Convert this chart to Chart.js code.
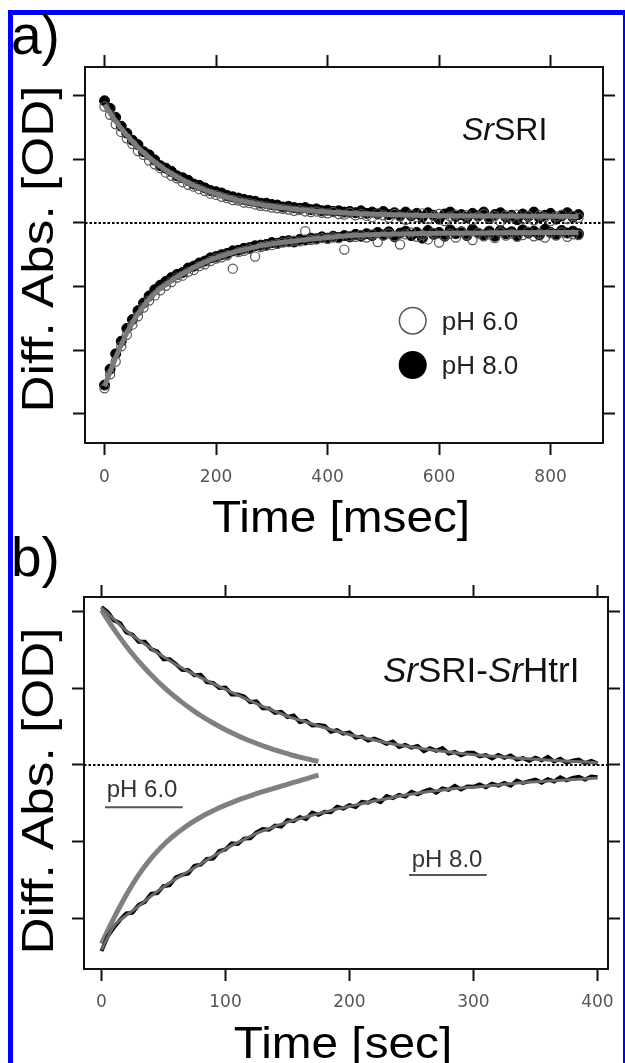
<!DOCTYPE html>
<html><head><meta charset="utf-8">
<script src="https://cdn.jsdelivr.net/npm/chart.js@4.4.1/dist/chart.umd.min.js"></script>
<style>
html,body{margin:0;padding:0;background:#fff;}
body{width:625px;height:1063px;position:relative;overflow:hidden;}
#frame{position:absolute;left:8px;top:10px;width:620px;height:1100px;border:5px solid #0000ff;box-sizing:border-box;}
canvas{position:absolute;left:0;}
#ca{top:0;}
#cb{top:530px;}
</style></head><body>
<div id="frame"></div>
<canvas id="ca" width="625" height="545"></canvas>
<canvas id="cb" width="625" height="533"></canvas>
<script>
// ---------------- Panel a data (Time in msec, Diff. Abs. in tick units) ----------------
const A_X_TICKS = [0,200,400,600,800];
const A_Y_TICKS = [-3,-2,-1,0,1,2];
const A_TIME = [0,10,20,30,40,50,60,70,80,90,100,110,120,130,140,150,160,170,180,190,200,210,220,230,240,250,260,270,280,290,300,310,320,330,340,350,360,370,380,390,400,410,420,430,440,450,460,470,480,490,500,510,520,530,540,550,560,570,580,590,600,610,620,630,640,650,660,670,680,690,700,710,720,730,740,750,760,770,780,790,800,810,820,830,840,850];
const A_PH8_UP = [1.92,1.80,1.66,1.52,1.41,1.30,1.23,1.12,1.07,0.99,
0.90,0.86,0.81,0.74,0.71,0.67,0.61,0.59,0.55,0.51,
0.49,0.47,0.43,0.41,0.39,0.37,0.35,0.34,0.31,0.31,
0.29,0.28,0.25,0.26,0.24,0.23,0.24,0.21,0.22,0.19,
0.20,0.18,0.19,0.17,0.18,0.16,0.19,0.15,0.17,0.14,
0.18,0.13,0.16,0.12,0.17,0.11,0.15,0.09,0.16,0.12,
0.06,0.14,0.17,0.10,0.13,0.08,0.15,0.11,0.17,0.07,
0.13,0.16,0.09,0.12,0.05,0.14,0.10,0.17,0.08,0.12,
0.15,0.06,0.11,0.16,0.09,0.13];
const A_PH8_DN = [-2.55,-2.30,-2.06,-1.86,-1.66,-1.52,-1.38,-1.26,-1.15,-1.05,
-0.98,-0.92,-0.86,-0.81,-0.78,-0.71,-0.68,-0.63,-0.60,-0.55,
-0.53,-0.50,-0.48,-0.44,-0.43,-0.40,-0.39,-0.36,-0.35,-0.34,
-0.31,-0.32,-0.29,-0.28,-0.30,-0.26,-0.27,-0.24,-0.25,-0.22,
-0.24,-0.21,-0.23,-0.20,-0.22,-0.18,-0.21,-0.17,-0.20,-0.15,
-0.19,-0.14,-0.22,-0.16,-0.13,-0.20,-0.15,-0.24,-0.12,-0.18,
-0.15,-0.21,-0.11,-0.17,-0.14,-0.20,-0.10,-0.16,-0.19,-0.13,
-0.21,-0.12,-0.17,-0.14,-0.20,-0.11,-0.16,-0.13,-0.19,-0.10,
-0.15,-0.18,-0.12,-0.16,-0.13,-0.17];
const A_PH6_UP = [1.83,1.70,1.55,1.43,1.33,1.24,1.13,1.07,0.98,0.92,
0.86,0.79,0.74,0.70,0.64,0.60,0.57,0.53,0.50,0.46,
0.44,0.41,0.39,0.36,0.35,0.32,0.31,0.29,0.27,0.26,
0.24,0.23,0.22,0.21,0.19,0.20,0.18,0.17,0.18,0.16,
0.15,0.17,0.14,0.13,0.16,0.12,0.14,0.11,0.09,0.15,
0.12,0.08,0.14,0.10,0.05,0.13,0.09,0.15,0.06,0.11,
0.14,0.03,0.10,0.13,0.07,0.12,0.04,0.10,0.14,0.08,
0.11,0.02,0.12,0.09,0.13,0.06,0.11,0.04,0.12,0.09,
0.03,0.10,0.13,0.06,0.11,0.08];
const A_PH6_DN = [-2.60,-2.38,-2.18,-1.94,-1.76,-1.60,-1.47,-1.33,-1.22,-1.14,
-1.06,-0.99,-0.93,-0.86,-0.83,-0.77,-0.74,-0.68,-0.65,-0.60,
-0.56,-0.54,-0.51,-0.72,-0.46,-0.44,-0.41,-0.53,-0.38,-0.36,
-0.35,-0.33,-0.31,-0.30,-0.28,-0.29,-0.13,-0.27,-0.26,-0.24,
-0.25,-0.23,-0.24,-0.42,-0.21,-0.22,-0.19,-0.23,-0.18,-0.30,
-0.20,-0.17,-0.21,-0.34,-0.18,-0.15,-0.22,-0.19,-0.26,-0.16,
-0.31,-0.20,-0.17,-0.23,-0.14,-0.19,-0.27,-0.16,-0.21,-0.18,
-0.24,-0.15,-0.20,-0.17,-0.22,-0.19,-0.14,-0.21,-0.17,-0.23,
-0.16,-0.20,-0.15,-0.22,-0.18,-0.19];
const A_FIT_TIME = [0,10,20,30,40,50,60,70,80,90,100,110,120,130,140,150,160,170,180,190,200,210,220,230,240,250,260,270,280,290,300,320,340,360,380,400,450,500,550,600,700,850];
const A_FIT_UP = [1.860,1.725,1.600,1.484,1.378,1.280,1.189,1.105,1.028,0.957,0.891,0.830,0.774,0.722,0.674,0.630,0.589,0.552,0.517,0.485,0.455,0.428,0.403,0.379,0.358,0.338,0.320,0.303,0.287,0.273,0.260,0.236,0.216,0.199,0.184,0.172,0.148,0.132,0.122,0.114,0.107,0.102];
const A_FIT_DN = [-2.57,-2.34,-2.12,-1.92,-1.73,-1.57,-1.43,-1.31,-1.20,-1.11,-1.03,-0.97,-0.91,-0.85,-0.80,-0.75,-0.70,-0.66,-0.62,-0.58,-0.55,-0.52,-0.49,-0.465,-0.44,-0.42,-0.40,-0.38,-0.36,-0.345,-0.33,-0.305,-0.285,-0.265,-0.245,-0.23,-0.195,-0.18,-0.17,-0.163,-0.157,-0.152];
const A_X_RANGE = [-35, 894];
const A_Y_RANGE = [-3.461, 2.451];

// ---------------- Panel b data (Time in sec) ----------------
const B_X_TICKS = [0,100,200,300,400];
const B_Y_TICKS = [-2,-1,0,1,2];
const B_PH6_TIME = [0,5,10,15,20,25,30,35,40,45,50,55,60,65,70,75,80,85,90,95,100,105,110,115,120,125,130,135,140,145,150,155,160,165,170,175];
const B_PH6_UP = [2.02,1.892,1.771,1.657,1.549,1.447,1.351,1.261,1.175,1.095,1.019,0.947,0.880,0.816,0.756,0.699,0.645,0.595,0.547,0.502,0.459,0.419,0.382,0.346,0.312,0.281,0.251,0.222,0.196,0.170,0.147,0.124,0.103,0.083,0.064,0.047];
const B_PH6_DN = [-2.33,-2.16,-1.997,-1.842,-1.695,-1.558,-1.433,-1.32,-1.218,-1.126,-1.043,-0.968,-0.90,-0.838,-0.781,-0.729,-0.681,-0.637,-0.596,-0.558,-0.523,-0.49,-0.459,-0.43,-0.402,-0.375,-0.349,-0.324,-0.30,-0.276,-0.252,-0.228,-0.204,-0.18,-0.156,-0.132];
const B_PH8_TIME = [0,5,10,15,20,25,30,35,40,45,50,55,60,65,70,75,80,85,90,95,100,105,110,115,120,125,130,135,140,145,150,155,160,165,170,175,180,185,190,195,200,205,210,215,220,225,230,235,240,245,250,255,260,265,270,275,280,285,290,295,300,305,310,315,320,325,330,335,340,345,350,355,360,365,370,375,380,385,390,395,400];
const B_PH8_UP = [2.06,1.995,1.885,1.85,1.73,1.70,1.605,1.605,1.51,1.48,
1.38,1.38,1.315,1.24,1.235,1.17,1.175,1.08,1.07,1.005,
1.01,0.918,0.92,0.893,0.82,0.83,0.74,0.738,0.68,0.693,
0.625,0.645,0.56,0.575,0.515,0.52,0.51,0.433,0.455,0.408,
0.425,0.358,0.37,0.318,0.345,0.313,0.275,0.305,0.235,0.263,
0.225,0.248,0.18,0.22,0.185,0.22,0.15,0.17,0.125,0.158,
0.16,0.113,0.13,0.085,0.13,0.093,0.125,0.07,0.09,0.055,
0.095,0.06,0.105,0.045,0.08,0.03,0.055,0.071,0.023,0.054,
0.02];
const B_PH8_DN = [-2.425,-2.235,-2.12,-2.02,-1.935,-1.925,-1.825,-1.785,-1.68,-1.67,
-1.58,-1.568,-1.465,-1.433,-1.415,-1.315,-1.30,-1.225,-1.22,-1.123,
-1.10,-1.023,-1.03,-0.96,-0.955,-0.88,-0.835,-0.845,-0.79,-0.803,
-0.72,-0.733,-0.68,-0.703,-0.62,-0.65,-0.61,-0.615,-0.545,-0.568,
-0.525,-0.548,-0.48,-0.493,-0.45,-0.485,-0.405,-0.433,-0.39,-0.413,
-0.35,-0.383,-0.345,-0.32,-0.36,-0.305,-0.325,-0.273,-0.32,-0.28,
-0.285,-0.253,-0.29,-0.243,-0.27,-0.233,-0.27,-0.203,-0.235,-0.21,
-0.19,-0.23,-0.185,-0.215,-0.16,-0.20,-0.17,-0.155,-0.19,-0.15,
-0.16];
const B_FIT_TIME = [0,10,20,30,40,50,60,70,80,90,100,110,120,130,140,150,160,170,180,190,200,210,220,230,240,250,260,270,280,290,300,310,320,330,340,350,360,370,380,390,400];
const B_FIT_UP = [2.05,1.90,1.75,1.63,1.52,1.41,1.31,1.22,1.14,1.06,0.985,0.91,0.835,0.765,0.70,0.635,0.585,0.535,0.485,0.44,0.395,0.36,0.325,0.29,0.26,0.235,0.21,0.19,0.17,0.15,0.135,0.12,0.11,0.095,0.085,0.075,0.065,0.055,0.045,0.038,0.03];
const B_FIT_DN = [-2.41,-2.10,-1.96,-1.84,-1.71,-1.59,-1.485,-1.39,-1.29,-1.19,-1.095,-1.01,-0.93,-0.86,-0.80,-0.745,-0.70,-0.655,-0.615,-0.575,-0.54,-0.505,-0.47,-0.44,-0.405,-0.38,-0.355,-0.335,-0.315,-0.30,-0.29,-0.275,-0.26,-0.245,-0.23,-0.22,-0.21,-0.20,-0.19,-0.18,-0.17];
const B_X_RANGE = [-14.1, 408.5];
const B_Y_RANGE = [-2.66, 2.19];

// ---------------- helpers ----------------
const FONT = '"Liberation Sans", Arial, Helvetica, sans-serif';
const TICKFONT = '"DejaVu Sans", Verdana, sans-serif';
Chart.defaults.font.family = FONT;
const pts = (xs, ys) => xs.map((x, i) => ({x: x, y: ys[i]}));

function axis(position, range, tickVals, thickness, extra) {
  const horiz = position === 'top' || position === 'bottom';
  return Object.assign({
    type: 'linear', position: position, min: range[0], max: range[1],
    afterBuildTicks: s => { s.ticks = tickVals.map(v => ({value: v})); },
    afterFit: s => { if (horiz) s.height = thickness; else s.width = thickness; },
    grid: {display: true, drawOnChartArea: false, drawTicks: true, tickLength: 12, tickWidth: 2, tickColor: '#111'},
    border: {display: true, color: '#111', width: 2},
    ticks: {display: false}
  }, extra || {});
}

function drawRich(ctx, x, y, parts, size, color) {
  ctx.fillStyle = color; ctx.textBaseline = 'alphabetic'; ctx.textAlign = 'left';
  for (const p of parts) {
    ctx.font = (p.it ? 'italic ' : '') + size + 'px ' + FONT;
    ctx.fillText(p.t, x, y);
    x += ctx.measureText(p.t).width;
  }
}

// axis titles drawn as canvas text, slightly widened like the original lettering
function drawTitles(chart, xText, yShift) {
  const ctx = chart.ctx, ca = chart.chartArea;
  ctx.save();
  ctx.fillStyle = '#000'; ctx.textAlign = 'center'; ctx.textBaseline = 'alphabetic';
  ctx.font = '44px ' + FONT;
  ctx.save();
  ctx.translate((ca.left + ca.right) / 2 - 3, ca.bottom + 88.7);
  ctx.scale(1.085, 1);
  ctx.fillText(xText, 0, 0);
  ctx.restore();
  ctx.font = '45px ' + FONT;
  ctx.save();
  ctx.translate(53, (ca.top + ca.bottom) / 2 + yShift);
  ctx.rotate(-Math.PI / 2);
  ctx.scale(1.14, 1);
  ctx.fillText('Diff. Abs. [OD]', 0, 0);
  ctx.restore();
  ctx.restore();
}

const xTickLabels = (pad) => ({display: true, color: '#555', font: {family: TICKFONT, size: 17},
  padding: pad, maxRotation: 0, autoSkip: false});

const baseOpts = {
  responsive: false, animation: false, events: [],
  layout: {padding: 0},
  plugins: {legend: {display: false}, tooltip: {enabled: false}}
};

// ---------------- Chart a ----------------
const labelsA = {
  id: 'labelsA',
  afterDraw(chart) {
    const ctx = chart.ctx;
    drawTitles(chart, 'Time [msec]', -6);
    ctx.save();
    ctx.fillStyle = '#000'; ctx.textBaseline = 'alphabetic'; ctx.textAlign = 'left';
    ctx.font = '55px ' + FONT;
    ctx.fillText('a)', 11, 54);
    drawRich(ctx, 462, 140, [{t: 'Sr', it: true}, {t: 'SRI'}], 32, '#111');
    const ds = chart.data.datasets;
    const open = ds.find(d => d.label === 'pH 6.0');
    const fill = ds.find(d => d.label === 'pH 8.0');
    const items = [[open, 320.7, '#fff'], [fill, 365, fill.pointBackgroundColor]];
    for (const [d, cy, bg] of items) {
      ctx.beginPath();
      ctx.arc(412.7, cy, 13.3, 0, Math.PI * 2);
      ctx.fillStyle = bg; ctx.fill();
      ctx.lineWidth = 1.5; ctx.strokeStyle = d.pointBorderColor; ctx.stroke();
      ctx.fillStyle = '#222'; ctx.font = '26px ' + FONT;
      ctx.fillText(d.label, 441.7, cy + 8.8);
    }
    ctx.restore();
  }
};

new Chart(document.getElementById('ca'), {
  type: 'scatter',
  data: {datasets: [
    {label: 'fit up', data: pts(A_FIT_TIME, A_FIT_UP), showLine: true, pointRadius: 0, borderColor: '#7b7b7b', borderWidth: 5, cubicInterpolationMode: 'monotone', order: 0},
    {label: 'fit down', data: pts(A_FIT_TIME, A_FIT_DN), showLine: true, pointRadius: 0, borderColor: '#7b7b7b', borderWidth: 5, cubicInterpolationMode: 'monotone', order: 0},
    {label: 'pH 6.0', data: pts(A_TIME, A_PH6_UP), pointRadius: 4.6, pointBackgroundColor: 'rgba(255,255,255,0)', pointBorderColor: '#555', pointBorderWidth: 1.2, order: 1},
    {label: 'pH 6.0 b', data: pts(A_TIME, A_PH6_DN), pointRadius: 4.6, pointBackgroundColor: 'rgba(255,255,255,0)', pointBorderColor: '#555', pointBorderWidth: 1.2, order: 1},
    {label: 'pH 8.0', data: pts(A_TIME, A_PH8_UP), pointRadius: 5, pointBackgroundColor: '#000', pointBorderColor: '#000', pointBorderWidth: 1, order: 2},
    {label: 'pH 8.0 b', data: pts(A_TIME, A_PH8_DN), pointRadius: 5, pointBackgroundColor: '#000', pointBorderColor: '#000', pointBorderWidth: 1, order: 2},
    {label: 'zero', data: pts(A_X_RANGE, [0, 0]), showLine: true, pointRadius: 0, borderColor: '#000', borderWidth: 2, borderDash: [2.5, 2], order: 3}
  ]},
  options: Object.assign({}, baseOpts, {
    scales: {
      x: axis('bottom', A_X_RANGE, A_X_TICKS, 102, {ticks: xTickLabels(12)}),
      x2: axis('top', A_X_RANGE, A_X_TICKS, 67),
      y: axis('left', A_Y_RANGE, A_Y_TICKS, 85),
      y2: axis('right', A_Y_RANGE, A_Y_TICKS, 22)
    }
  }),
  plugins: [labelsA]
});

// ---------------- Chart b ----------------
const labelsB = {
  id: 'labelsB',
  afterDraw(chart) {
    const ctx = chart.ctx;
    drawTitles(chart, 'Time [sec]', 8);
    ctx.save();
    ctx.fillStyle = '#000'; ctx.textBaseline = 'alphabetic'; ctx.textAlign = 'left';
    ctx.font = '55px ' + FONT;
    ctx.fillText('b)', 11, 46);
    drawRich(ctx, 383, 152, [{t: 'Sr', it: true}, {t: 'SRI-'}, {t: 'Sr', it: true}, {t: 'HtrI'}], 35, '#111');
    const notes = [['pH 6.0', 106.7, 267.3, 105, 182.7, 277.3], ['pH 8.0', 411.7, 337.3, 409, 486.7, 345]];
    for (const [t, x, y, u1, u2, uy] of notes) {
      ctx.fillStyle = '#333'; ctx.font = '24px ' + FONT;
      ctx.fillText(t, x, y);
      ctx.beginPath(); ctx.moveTo(u1, uy); ctx.lineTo(u2, uy);
      ctx.lineWidth = 2; ctx.strokeStyle = '#555'; ctx.stroke();
    }
    ctx.restore();
  }
};

new Chart(document.getElementById('cb'), {
  type: 'scatter',
  data: {datasets: [
    {label: 'pH 8.0 fit up', data: pts(B_FIT_TIME, B_FIT_UP), showLine: true, pointRadius: 0, borderColor: '#6a6a6a', borderWidth: 3, cubicInterpolationMode: 'monotone', order: 0},
    {label: 'pH 8.0 fit down', data: pts(B_FIT_TIME, B_FIT_DN), showLine: true, pointRadius: 0, borderColor: '#6a6a6a', borderWidth: 3, cubicInterpolationMode: 'monotone', order: 0},
    {label: 'pH 8.0 up', data: pts(B_PH8_TIME, B_PH8_UP), showLine: true, pointRadius: 0, borderColor: '#000', borderWidth: 4, order: 1},
    {label: 'pH 8.0 down', data: pts(B_PH8_TIME, B_PH8_DN), showLine: true, pointRadius: 0, borderColor: '#000', borderWidth: 4, order: 1},
    {label: 'pH 6.0 up', data: pts(B_PH6_TIME, B_PH6_UP), showLine: true, pointRadius: 0, borderColor: '#808080', borderWidth: 5, cubicInterpolationMode: 'monotone', order: 2},
    {label: 'pH 6.0 down', data: pts(B_PH6_TIME, B_PH6_DN), showLine: true, pointRadius: 0, borderColor: '#808080', borderWidth: 5, cubicInterpolationMode: 'monotone', order: 2},
    {label: 'zero', data: pts(B_X_RANGE, [0, 0]), showLine: true, pointRadius: 0, borderColor: '#000', borderWidth: 2, borderDash: [2.5, 2], order: 3}
  ]},
  options: Object.assign({}, baseOpts, {
    scales: {
      x: axis('bottom', B_X_RANGE, B_X_TICKS, 94, {ticks: xTickLabels(11)}),
      x2: axis('top', B_X_RANGE, B_X_TICKS, 67),
      y: axis('left', B_Y_RANGE, B_Y_TICKS, 84),
      y2: axis('right', B_Y_RANGE, B_Y_TICKS, 11)
    }
  }),
  plugins: [labelsB]
});
</script>
</body></html>
